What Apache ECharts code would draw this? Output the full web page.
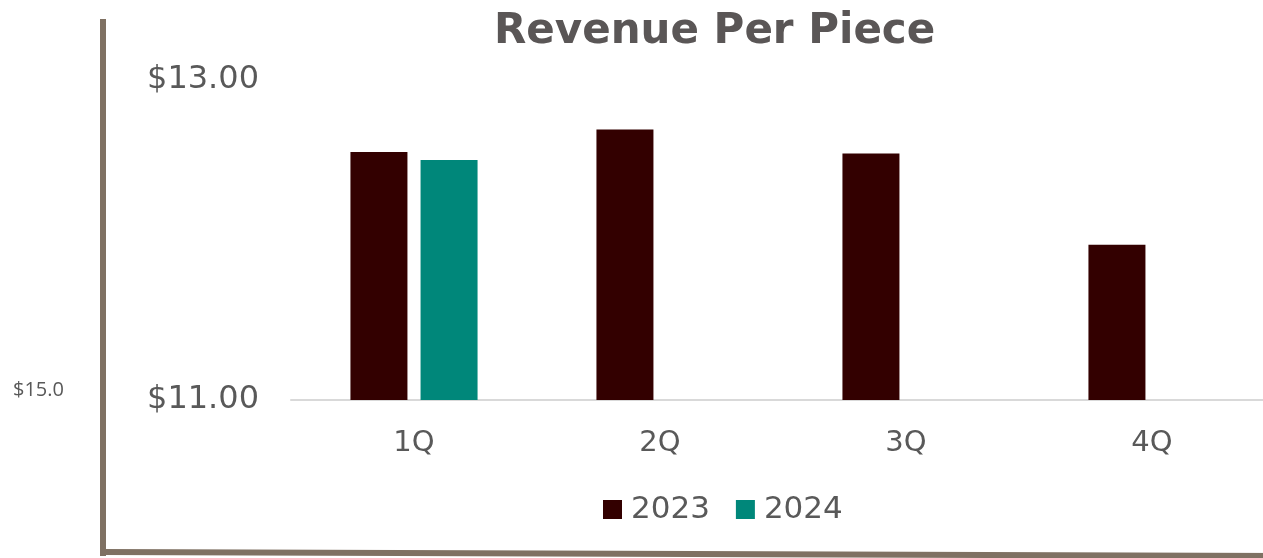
<!DOCTYPE html>
<html>
<head>
<meta charset="utf-8">
<title>Revenue Per Piece</title>
<script src="https://cdn.jsdelivr.net/npm/echarts@6/dist/echarts.min.js"></script>
<style>
  html, body { margin: 0; padding: 0; background: #fff; overflow: hidden; }
  #chart { width: 1280px; height: 558px; }
</style>
</head>
<body>
<div id="chart"></div>
<script>
// data
var quarters = ['1Q', '2Q', '3Q', '4Q'];
var rpp2023 = [12.55, 12.69, 12.54, 11.97];
var rpp2024 = [12.50, null, null, null];
var yMin = 11;
var yMax = 13;

// chart div is a bit wider than the window: the last category runs off the right edge
var chart = echarts.init(document.getElementById('chart'));
var grey = '#595959';
var font = 'DejaVu Sans';

var option = {
  backgroundColor: '#fff',
  animation: false,
  title: {
    text: 'Revenue Per Piece',
    left: 489,
    top: 6,
    textStyle: { fontFamily: font, fontSize: 42, fontWeight: 'bold', color: '#5a5656' }
  },
  legend: {
    data: ['2023', '2024'],
    top: 489,
    left: 598,
    itemWidth: 19,
    itemHeight: 19,
    itemGap: 26,
    icon: 'rect',
    textStyle: { fontFamily: font, fontSize: 31, color: grey, padding: [0, 0, 0, 4] }
  },
  grid: { left: 291, top: 80, width: 984, height: 320, containLabel: false },
  xAxis: {
    type: 'category',
    data: quarters,
    axisLine: { lineStyle: { color: '#d9d9d9', width: 2 } },
    axisTick: { show: false },
    axisLabel: { fontFamily: font, fontSize: 29, color: grey, margin: 29 }
  },
  yAxis: {
    type: 'value',
    min: yMin,
    max: yMax,
    interval: 2,
    axisLine: { show: false },
    axisTick: { show: false },
    splitLine: { show: false },
    axisLabel: {
      fontFamily: font, fontSize: 32, color: grey, margin: 32,
      formatter: function (v) { return '$' + v.toFixed(2); }
    }
  },
  series: [
    {
      name: '2023',
      type: 'bar',
      data: rpp2023,
      barWidth: 57,
      barGap: '23%',
      itemStyle: { color: '#330000' }
    },
    {
      name: '2024',
      type: 'bar',
      data: rpp2024,
      barWidth: 57,
      itemStyle: { color: '#00877a' }
    }
  ],
  // frame lines and stray label from the original slide
  graphic: [
    { type: 'line', shape: { x1: 103, y1: 19, x2: 103, y2: 556 }, style: { stroke: '#7f7163', lineWidth: 6 } },
    { type: 'line', shape: { x1: 103, y1: 552, x2: 1280, y2: 556 }, style: { stroke: '#7f7163', lineWidth: 6 } },
    { type: 'text', left: 13, top: 380, style: { text: '$15.0', fontFamily: 'Open Sans', fontSize: 20, fill: grey } }
  ]
};

chart.setOption(option);
</script>
</body>
</html>
